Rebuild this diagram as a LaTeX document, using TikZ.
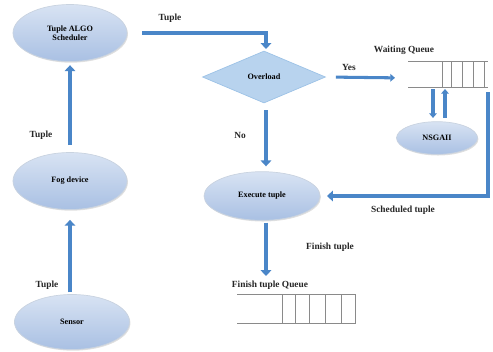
\documentclass[tikz,border=0pt]{standalone}
\usepackage{fontspec}
\setmainfont{Liberation Serif}
\usetikzlibrary{shapes.geometric,arrows.meta,shadows}
\definecolor{FGArrow}{HTML}{4A86C8}
\definecolor{FGTop}{HTML}{D8E3F3}
\definecolor{FGBottom}{HTML}{A9C0E3}
\definecolor{FGEdge}{HTML}{C9D3E0}
\definecolor{FGDiamond}{HTML}{B8D3EE}
\definecolor{FGDiamondEdge}{HTML}{9CC2E6}
\definecolor{FGQueue}{HTML}{8A8A8A}
\tikzset{
  blob/.style={ellipse,top color=FGTop,bottom color=FGBottom,draw=FGEdge,line width=0.6pt,
    drop shadow={opacity=0.25,shadow xshift=0.8pt,shadow yshift=-1pt},
    align=center,font=\fontsize{7}{8}\selectfont\bfseries,inner sep=0pt},
  decision/.style={diamond,fill=FGDiamond,draw=FGDiamondEdge,line width=0.6pt,aspect=2.4,
    font=\fontsize{7}{8}\selectfont\bfseries,inner sep=0pt},
  tag/.style={font=\fontsize{8}{9}\selectfont\bfseries,text=black!85,inner sep=1pt},
  bigarrow/.style={draw=FGArrow,line width=4.2pt,-{Triangle[width=9pt,length=5pt]}},
  thinarrow/.style={draw=FGArrow,line width=2.6pt,-{Triangle[width=6.5pt,length=4pt]}},
  queue/.style={draw=FGQueue,line width=0.5pt}
}
\begin{document}
\begin{tikzpicture}[x=0.03cm,y=-0.03cm]
\path[use as bounding box] (0,0) rectangle (493,351);
% left column
\node[blob,minimum width=3.42cm,minimum height=1.71cm] (sched) at (70,33) {Tuple ALGO\\Scheduler};
\node[blob,minimum width=3.42cm,minimum height=1.71cm] (fog) at (70,181) {Fog device};
\node[blob,minimum width=3.45cm,minimum height=1.65cm] (sensor) at (72,322) {Sensor};
% middle column
\node[decision,minimum width=3.69cm,minimum height=1.56cm] (over) at (264,77) {Overload};
\node[blob,minimum width=3.48cm,minimum height=1.46cm] (exec) at (262,196) {Execute tuple};
\node[blob,minimum width=2.43cm,minimum height=0.98cm] (nsga) at (437,138) {NSGAII};
% waiting queue
\draw[queue] (408,61) -- (488,61);
\draw[queue] (408,87) -- (488,87);
\foreach \qx in {442,451,462,473,484}
  \draw[queue] (\qx,61) -- (\qx,87);
\coordinate (wqin) at (407,78);
\coordinate (wqdown) at (433,89);
\coordinate (wqup) at (445,89);
\coordinate (wqout) at (488,92);
% finish tuple queue
\draw[queue] (237,294) -- (356,294);
\draw[queue] (237,323) -- (356,323);
\foreach \qx in {282,295,309,325,341,355}
  \draw[queue] (\qx,294) -- (\qx,323);
% labels
\node[tag] (t1) at (170,18) {Tuple};
\node[tag] (t2) at (41,135) {Tuple};
\node[tag] (t3) at (47,285) {Tuple};
\node[tag] (wql) at (404,50) {Waiting Queue};
\node[tag] (yes) at (349,67) {Yes};
\node[tag] (no) at (240,135) {No};
\node[tag] (scl) at (403,210) {Scheduled tuple};
\node[tag] (ftl) at (330,247) {Finish tuple};
\node[tag] (fql) at (270,285) {Finish tuple Queue};
% connectors
\draw[bigarrow,shorten <=0.45cm,shorten >=0.05cm] (sched.east) -| ([xshift=0.06cm]over.north);
\draw[bigarrow,shorten <=0.21cm,shorten >=0.1cm] (fog.north) -- (sched.south);
\draw[bigarrow,shorten <=0.05cm,shorten >=0.3cm] ([xshift=-0.06cm]sensor.north) -- (fog.south);
\draw[bigarrow,shorten <=0.2cm,shorten >=0.15cm] ([xshift=0.06cm]over.south) -- ([xshift=0.12cm]exec.north);
\draw[bigarrow,shorten <=0.06cm,shorten >=0.1cm] ([xshift=0.12cm]exec.south) -- ([xshift=0.12cm]exec.south |- fql.north);
\draw[thinarrow,shorten <=0.3cm,shorten >=0.36cm] (over.east) -- (wqin);
\draw[thinarrow,shorten >=0.1cm] (wqdown) -- (wqdown |- nsga.north);
\draw[thinarrow,shorten <=0.1cm] (wqup |- nsga.north) -- (wqup);
\draw[bigarrow,shorten >=0.2cm] (wqout) |- (exec.east);
\end{tikzpicture}
\end{document}
